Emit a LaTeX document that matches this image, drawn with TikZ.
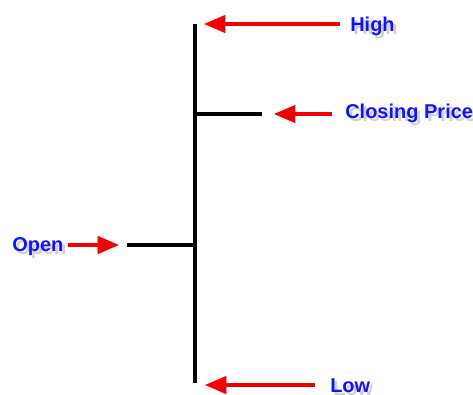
\documentclass[tikz,border=0pt]{standalone}
\usepackage{fontspec}
\setmainfont{Liberation Sans}
\usetikzlibrary{arrows.meta}
\definecolor{lblblue}{RGB}{20,20,240}
\definecolor{arrred}{RGB}{240,0,0}
\tikzset{
  bar/.style={line width=2.6pt, black},
  barshadow/.style={line width=3.2pt, black!35, opacity=0.6},
  redarrow/.style={line width=2.3pt, arrred, -{Triangle[length=16pt,width=13pt]}},
  shadowarrow/.style={line width=2.8pt, black!35, opacity=0.5, -{Triangle[length=16pt,width=13pt]}},
  lbl/.style={font=\bfseries\fontsize{15}{18}\selectfont, text=lblblue, inner sep=0pt},
  lblshadow/.style={font=\bfseries\fontsize{15}{18}\selectfont, text=black!30, inner sep=0pt, opacity=0.6},
}
\begin{document}
\begin{tikzpicture}[x=0.75pt,y=-0.75pt]
\useasboundingbox (0,0) rectangle (473,394);
% coordinates
\coordinate (top) at (195,24);
\coordinate (bot) at (195,383);
\coordinate (closeL) at (195,114);
\coordinate (closeR) at (262,114);
\coordinate (openL) at (127,245);
\coordinate (openR) at (195,245);
\coordinate (hightip) at (204,24);
\coordinate (closetip) at (274,114);
\coordinate (opentip) at (119,245);
\coordinate (lowtip) at (205,385);
\coordinate (hightail) at (340,24);
\coordinate (closetail) at (332,114);
\coordinate (opentail) at (68,245);
\coordinate (lowtail) at (315,385);
% shadows
\begin{scope}[shift={(3,3)}]
\draw[barshadow] (top) -- (bot);
\draw[barshadow] (closeL) -- (closeR);
\draw[barshadow] (openL) -- (openR);
\draw[shadowarrow] (hightail) -- (hightip);
\draw[shadowarrow] (closetail) -- (closetip);
\draw[shadowarrow] (opentail) -- (opentip);
\draw[shadowarrow] (lowtail) -- (lowtip);
\node[lblshadow, anchor=west] (highsh) at (350,26) {High};
\node[lblshadow, anchor=west] (closesh) at (345,113) {Closing Price};
\node[lblshadow, anchor=west] (opensh) at (12,247) {Open};
\node[lblshadow, anchor=west] (lowsh) at (330,386) {Low};
\end{scope}
% bars
\draw[bar] (top) -- (bot);
\draw[bar] (closeL) -- (closeR);
\draw[bar] (openL) -- (openR);
% labels
\node[lbl, anchor=west] (high) at (350,26) {High};
\node[lbl, anchor=west] (close) at (345,113) {Closing Price};
\node[lbl, anchor=west] (open) at (12,247) {Open};
\node[lbl, anchor=west] (low) at (330,386) {Low};
% arrows
\draw[redarrow] (hightail) -- (hightip);
\draw[redarrow] (closetail) -- (closetip);
\draw[redarrow] (opentail) -- (opentip);
\draw[redarrow] (lowtail) -- (lowtip);
\end{tikzpicture}
\end{document}
